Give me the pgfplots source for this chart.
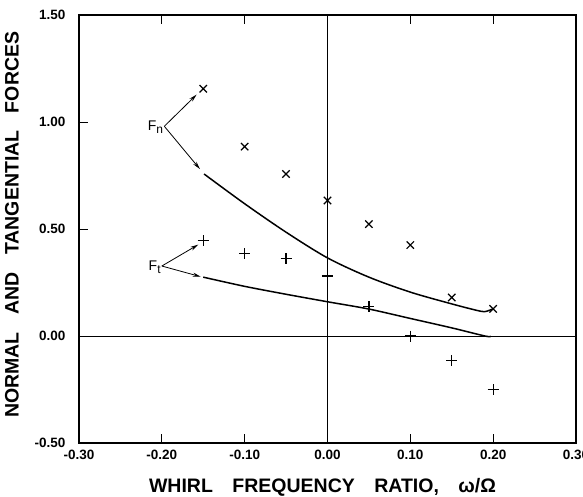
\documentclass[border=0pt]{standalone}
\usepackage{fontspec}
\setmainfont{Liberation Sans}
\usepackage{pgfplots}
\pgfplotsset{compat=1.18}
\usetikzlibrary{arrows.meta}

\begin{document}
\begin{tikzpicture}
\begin{axis}[name=ax, scale only axis, width=497pt, height=428pt,
  xmin=-0.3, xmax=0.3, ymin=-0.5, ymax=1.5,
  xtick={-0.3,-0.2,-0.1,0,0.1,0.2,0.3},
  xticklabels={-0.30,-0.20,-0.10,0.00,0.10,0.20,0.30},
  ytick={-0.5,0,0.5,1,1.5},
  yticklabels={-0.50,0.00,0.50,1.00,1.50},
  xtick pos=both, ytick pos=left, tick align=inside,
  major tick length=9pt,
  tick style={line width=0.9pt, black},
  axis line style={line width=1.3pt},
  /pgf/number format/assume math mode=true,
  ticklabel style={font=\fontsize{13.5}{14}\selectfont\bfseries},
  yticklabel style={xshift=-10pt},
  xticklabel style={yshift=-4pt},
  xlabel={WHIRL\hspace{1em}FREQUENCY\hspace{1em}RATIO,\hspace{1em}ω/Ω},
  ylabel={NORMAL\hspace{0.9em}AND\hspace{0.9em}TANGENTIAL\hspace{0.9em}FORCES},
  xlabel style={at={(axis description cs:0.49,-0.103)}, anchor=center, font=\fontsize{19.5}{20}\selectfont\bfseries},
  ylabel style={at={(axis description cs:-0.135,0.51)}, anchor=center, font=\fontsize{19.5}{20}\selectfont\bfseries},
  clip=false]

% reference lines
\addplot[black, line width=0.8pt] coordinates {(0,-0.5) (0,1.5)};
\addplot[black, line width=0.8pt] coordinates {(-0.3,0) (0.3,0)};

% normal force, measured
\addplot[only marks, mark=x, mark size=5.2pt, mark options={line width=1.2pt}] coordinates {
(-0.15,1.155) (-0.10,0.885) (-0.05,0.757) (0.00,0.633) (0.05,0.523) (0.10,0.425) (0.15,0.18) (0.20,0.127)};
% tangential force, measured
\addplot[only marks, mark=+, mark size=5.5pt, mark options={line width=1.2pt}] coordinates {
(-0.15,0.445) (-0.10,0.385) (-0.05,0.362) (0.00,0.28) (0.05,0.136) (0.10,0.0) (0.15,-0.115) (0.20,-0.25)};

% theory curves
\addplot[smooth, tension=0.5, line width=1.5pt] coordinates {
(-0.149,0.757) (-0.10,0.618) (-0.05,0.485) (0.00,0.365) (0.05,0.275) (0.10,0.205) (0.15,0.15) (0.18,0.12) (0.19,0.114) (0.20,0.127)};
\addplot[smooth, tension=0.45, line width=1.5pt] coordinates {
(-0.15,0.275) (-0.10,0.232) (-0.05,0.195) (0.00,0.16) (0.05,0.126) (0.10,0.082) (0.15,0.038) (0.19,0.0) (0.197,-0.002)};

% annotation arrows
\addplot[line width=0.8pt, -{Stealth[length=8pt,width=4pt]}] coordinates {(-0.197,0.98) (-0.158,1.128)};
\addplot[line width=0.8pt, -{Stealth[length=8pt,width=4pt]}] coordinates {(-0.197,0.98) (-0.154,0.78)};
\addplot[line width=0.8pt, -{Stealth[length=8pt,width=4pt]}] coordinates {(-0.200,0.327) (-0.156,0.427)};
\addplot[line width=0.8pt, -{Stealth[length=8pt,width=4pt]}] coordinates {(-0.200,0.327) (-0.153,0.277)};

\node[anchor=east, inner sep=1pt, font=\fontsize{14}{14}\selectfont] at (axis cs:-0.197,0.975) {F\raisebox{-3pt}{\fontsize{12}{12}\selectfont n}};
\node[anchor=east, inner sep=1pt, font=\fontsize{14}{14}\selectfont] at (axis cs:-0.200,0.322) {F\raisebox{-3pt}{\fontsize{12}{12}\selectfont t}};
\end{axis}
\pgfresetboundingbox
\path[use as bounding box] ([shift={(-79pt,-53pt)}]ax.south west) rectangle ([shift={(7pt,15pt)}]ax.north east);
\end{tikzpicture}
\end{document}
